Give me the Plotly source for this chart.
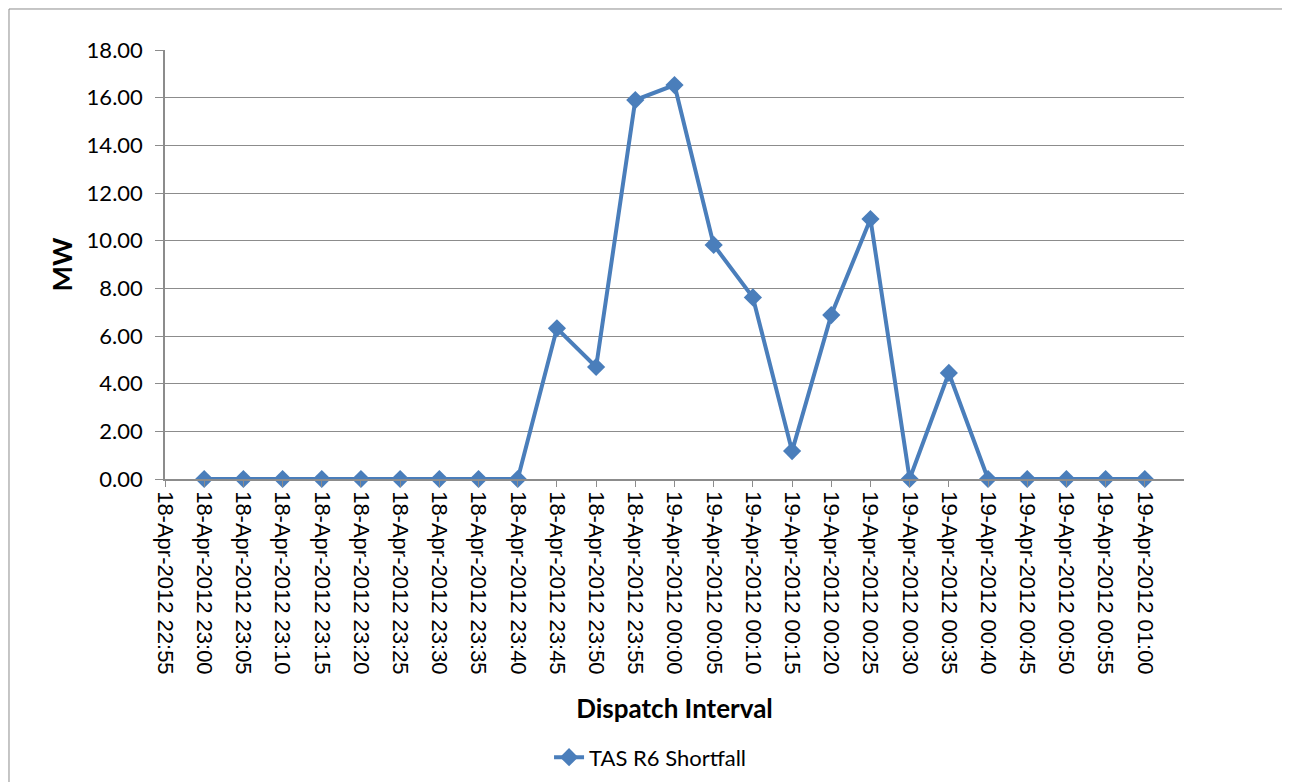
import plotly.graph_objects as go

tick_times = ["2012-04-18 22:55", "2012-04-18 23:00", "2012-04-18 23:05", "2012-04-18 23:10",
              "2012-04-18 23:15", "2012-04-18 23:20", "2012-04-18 23:25", "2012-04-18 23:30",
              "2012-04-18 23:35", "2012-04-18 23:40", "2012-04-18 23:45", "2012-04-18 23:50",
              "2012-04-18 23:55", "2012-04-19 00:00", "2012-04-19 00:05", "2012-04-19 00:10",
              "2012-04-19 00:15", "2012-04-19 00:20", "2012-04-19 00:25", "2012-04-19 00:30",
              "2012-04-19 00:35", "2012-04-19 00:40", "2012-04-19 00:45", "2012-04-19 00:50",
              "2012-04-19 00:55", "2012-04-19 01:00"]
tick_labels = ["18-Apr-2012 22:55", "18-Apr-2012 23:00", "18-Apr-2012 23:05", "18-Apr-2012 23:10",
               "18-Apr-2012 23:15", "18-Apr-2012 23:20", "18-Apr-2012 23:25", "18-Apr-2012 23:30",
               "18-Apr-2012 23:35", "18-Apr-2012 23:40", "18-Apr-2012 23:45", "18-Apr-2012 23:50",
               "18-Apr-2012 23:55", "19-Apr-2012 00:00", "19-Apr-2012 00:05", "19-Apr-2012 00:10",
               "19-Apr-2012 00:15", "19-Apr-2012 00:20", "19-Apr-2012 00:25", "19-Apr-2012 00:30",
               "19-Apr-2012 00:35", "19-Apr-2012 00:40", "19-Apr-2012 00:45", "19-Apr-2012 00:50",
               "19-Apr-2012 00:55", "19-Apr-2012 01:00"]

interval_times = tick_times[1:]
shortfall_mw = [0, 0, 0, 0, 0, 0, 0, 0, 0,
                6.32, 4.70, 15.90, 16.53, 9.82, 7.62, 1.17, 6.88, 10.91,
                0, 4.45,
                0, 0, 0, 0, 0]

y_ticks = [0, 2, 4, 6, 8, 10, 12, 14, 16, 18]

blue = "#4A7EBB"
grid = "#8C8C8C"
calibri_like = "Lato, Open Sans, sans-serif"

fig = go.Figure()
fig.add_trace(go.Scatter(
    x=interval_times, y=shortfall_mw, mode="lines+markers",
    name="TAS R6 Shortfall",
    line=dict(color=blue, width=4),
    marker=dict(symbol="diamond", size=14, color=blue),
    cliponaxis=False,
))

fig.update_layout(
    width=1290, height=782,
    paper_bgcolor="white", plot_bgcolor="white",
    margin=dict(l=157, r=114, t=42, b=311),
    showlegend=True,
    legend=dict(orientation="h", x=0.476, xanchor="center", y=-0.6, yanchor="top",
                font=dict(family=calibri_like, size=22, color="black")),
    xaxis=dict(
        type="date",
        range=["2012-04-18 22:55", "2012-04-19 01:05"],
        tickmode="array", tickvals=tick_times, ticktext=tick_labels,
        tickangle=90,
        tickfont=dict(family="Liberation Sans, Arial, sans-serif", size=22, color="black"),
        showgrid=False, showline=True, linecolor=grid, linewidth=1.5,
        ticks="outside", ticklen=6, tickcolor=grid,
        zeroline=False,
        title=dict(text="<b>Dispatch Interval</b>",
                   font=dict(family=calibri_like, size=26, color="black"),
                   standoff=26),
    ),
    yaxis=dict(
        range=[0, 18],
        tickmode="array", tickvals=y_ticks, ticktext=[f"{v:.2f}" for v in y_ticks],
        tickfont=dict(family=calibri_like, size=22, color="black"),
        ticklabelstandoff=8,
        showgrid=True, gridcolor=grid, gridwidth=1.2,
        showline=True, linecolor=grid, linewidth=1.5,
        ticks="outside", ticklen=8, tickcolor=grid,
        zeroline=False,
        title=dict(text="<b>MW</b>",
                   font=dict(family=calibri_like, size=27, color="black"),
                   standoff=6),
    ),
    shapes=[dict(type="rect", xref="paper", yref="paper",
                 x0=-0.1531, x1=1.0972, y0=-1.2, y1=1.0956,
                 line=dict(color="#8C8C8C", width=1))],
)

fig.write_html("out.html")
